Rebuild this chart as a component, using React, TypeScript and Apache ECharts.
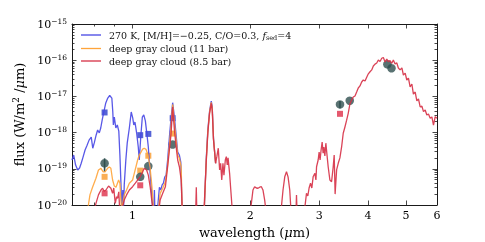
import React, { useEffect, useRef } from "react";
import * as echarts from "echarts";

// [wavelength (µm), flux (W/m^2/µm)]
const blueModel: [number, number][] = [
  [0.700, 1.75e-19], [0.707, 2.4e-19], [0.715, 1.27e-19], [0.724, 9.3e-20], [0.732, 1.05e-19],
  [0.739, 1.42e-19], [0.747, 2.1e-19], [0.756, 3.3e-19], [0.765, 4.5e-19], [0.774, 6.2e-19],
  [0.784, 7.5e-19], [0.791, 3.7e-19], [0.798, 5.2e-19], [0.807, 8.6e-19], [0.814, 1.18e-18],
  [0.822, 9.8e-19], [0.829, 1.34e-18], [0.836, 2.2e-18], [0.844, 3.7e-18], [0.854, 6.6e-18],
  [0.864, 9.0e-18], [0.874, 1.06e-17], [0.885, 9.0e-18], [0.890, 3.7e-18], [0.893, 1.62e-18],
  [0.898, 2.7e-18], [0.906, 1.34e-18], [0.914, 1.62e-18], [0.922, 1.1e-18], [0.928, 2.4e-19],
  [0.934, 3.6e-20], [0.939, 7e-21], [0.944, 2.6e-20], [0.948, 7e-21], [0.952, 3.6e-20],
  [0.961, 1.75e-19], [0.969, 5.2e-19], [0.981, 1.34e-18], [0.992, 3.7e-18], [1.001, 2.5e-18],
  [1.007, 1.62e-18], [1.014, 1.96e-18], [1.024, 9.8e-19], [1.034, 4.0e-19], [1.040, 1.75e-19],
  [1.050, 8.6e-19], [1.059, 2.7e-18], [1.068, 3.1e-18], [1.078, 2.1e-18], [1.087, 9.8e-19],
  [1.097, 4.0e-19], [1.107, 9.3e-20], [1.117, 2.6e-20], [1.127, 7e-21], [1.133, 7e-21],
  [1.137, 2.6e-20], [1.140, 7e-21], [1.157, 7e-21], [1.171, 3.1e-20], [1.180, 2.6e-20],
  [1.190, 3.6e-20], [1.199, 4.0e-20], [1.208, 5.9e-20], [1.218, 6.7e-20], [1.229, 1.75e-19],
  [1.242, 7.5e-19], [1.254, 2.5e-18], [1.266, 6.7e-18], [1.279, 2.7e-18], [1.292, 8.6e-19],
  [1.304, 2.9e-19], [1.317, 2.4e-19], [1.328, 1.54e-19], [1.339, 7e-21], [1.357, 7e-21],
  [1.518, 7e-21], [1.527, 1e-20], [1.542, 1.75e-19], [1.557, 1.18e-18], [1.573, 3.9e-18],
  [1.589, 7.4e-18], [1.598, 5.2e-18], [1.610, 7.0e-19], [1.630, 1.42e-19],
];

const orangeModel: [number, number][] = [
  [0.767, 7e-21], [0.778, 1.9e-20], [0.790, 3.1e-20], [0.806, 5.5e-20], [0.818, 9.3e-20],
  [0.830, 1.03e-19], [0.841, 8.2e-20], [0.851, 8.3e-20], [0.863, 1.03e-19], [0.872, 1.12e-19],
  [0.880, 1.03e-19], [0.889, 4.9e-20], [0.898, 3.35e-20], [0.907, 3.1e-20], [0.921, 4.9e-20],
  [0.928, 4.0e-20], [0.937, 7e-21], [0.952, 1.9e-20], [0.965, 2.6e-20], [0.981, 4.0e-20],
  [1.000, 4.9e-20], [1.010, 7.5e-20], [1.020, 1.14e-19], [1.030, 1.75e-19], [1.040, 2.4e-19],
  [1.051, 2.9e-19], [1.061, 3.5e-19], [1.071, 3.7e-19], [1.082, 3.45e-19], [1.095, 2.4e-19],
  [1.108, 1.12e-19], [1.121, 3.1e-20], [1.132, 7e-21], [1.164, 7e-21], [1.176, 2.1e-20],
  [1.194, 2.9e-20], [1.213, 4.4e-20], [1.229, 1.27e-19], [1.242, 4.5e-19], [1.254, 1.46e-18],
  [1.266, 6.0e-18], [1.279, 1.81e-18], [1.292, 6.2e-19], [1.304, 2.4e-19], [1.317, 1.95e-19],
  [1.331, 1.14e-19], [1.339, 7e-21], [1.518, 7e-21], [1.527, 1e-20], [1.542, 1.54e-19],
  [1.557, 1.04e-18], [1.573, 3.6e-18], [1.589, 6.8e-18], [1.598, 4.6e-18], [1.610, 6.6e-19],
  [1.630, 1.42e-19],
];

const redModel: [number, number][] = [
  [0.798, 7e-21], [0.806, 1.11e-20], [0.818, 1.9e-20], [0.830, 2.6e-20], [0.838, 2.9e-20],
  [0.846, 2.4e-20], [0.855, 2.6e-20], [0.868, 3.35e-20], [0.880, 2.9e-20], [0.889, 2.1e-20],
  [0.895, 2.95e-20], [0.903, 1.11e-20], [0.910, 1.69e-20], [0.915, 1.53e-20], [0.922, 2.3e-20],
  [0.927, 7e-21], [0.938, 7e-21], [0.952, 1.37e-20], [0.965, 1.9e-20], [0.981, 2.6e-20],
  [1.000, 3.2e-20], [1.016, 4.0e-20], [1.030, 4.9e-20], [1.045, 6.0e-20], [1.061, 8.3e-20],
  [1.071, 1.03e-19], [1.086, 9.3e-20], [1.097, 6.7e-20], [1.110, 2.95e-20], [1.123, 1e-20],
  [1.130, 7e-21], [1.167, 7e-21], [1.176, 1.37e-20], [1.194, 2.1e-20], [1.213, 3.2e-20],
  [1.229, 1.14e-19], [1.242, 3.3e-19], [1.254, 9.2e-19], [1.266, 5.1e-18], [1.279, 1.18e-18],
  [1.292, 4.1e-19], [1.304, 1.75e-19], [1.317, 1.14e-19], [1.331, 4.9e-20], [1.339, 7e-21],
  [1.450, 7e-21], [1.455, 3.1e-20], [1.459, 7e-21], [1.522, 7e-21], [1.542, 1.42e-19],
  [1.557, 9.6e-19], [1.573, 3.4e-18], [1.589, 6.4e-18], [1.598, 4.2e-18], [1.610, 6.2e-19],
  [1.630, 1.42e-19], [1.642, 2.16e-19], [1.656, 3.7e-19], [1.669, 9.3e-20], [1.679, 1.42e-19],
  [1.690, 4.9e-20], [1.702, 1.42e-19], [1.712, 6.7e-20], [1.726, 1.75e-19], [1.736, 2.16e-19],
  [1.746, 1.27e-19], [1.754, 2.0e-19], [1.770, 7.5e-20], [1.780, 3.2e-20], [1.794, 1e-20],
  [1.800, 7e-21], [1.998, 7e-21], [2.012, 1.11e-20], [2.031, 2.6e-20], [2.051, 3.2e-20],
  [2.072, 2.95e-20], [2.092, 2.9e-20], [2.113, 3.1e-20], [2.134, 3.2e-20], [2.154, 2.6e-20],
  [2.176, 1.37e-20], [2.192, 7e-21], [2.396, 7e-21], [2.424, 2.6e-20], [2.449, 6.0e-20],
  [2.474, 8.3e-20], [2.497, 6.0e-20], [2.522, 2.6e-20], [2.540, 7e-21], [2.617, 7e-21],
  [2.624, 1.9e-20], [2.632, 7e-21], [2.748, 7e-21], [2.764, 1.11e-20], [2.783, 2.1e-20],
  [2.805, 1.77e-20], [2.826, 2.95e-20], [2.850, 4.0e-20], [2.872, 2.95e-20], [2.894, 6.0e-20],
  [2.924, 7.5e-20], [2.942, 4.9e-20], [2.953, 1.14e-19], [2.981, 1.75e-19], [2.998, 2.9e-19],
  [3.015, 1.75e-19], [3.033, 3.3e-19], [3.052, 5.5e-19], [3.069, 2.7e-19], [3.083, 4.0e-19],
  [3.101, 2.26e-19], [3.119, 5.1e-19], [3.135, 2.9e-19], [3.162, 1.14e-19], [3.194, 4.9e-20],
  [3.226, 4.4e-20], [3.257, 1.14e-19], [3.276, 2.4e-19], [3.294, 2.0e-20], [3.323, 9.3e-20],
  [3.355, 1.42e-19], [3.388, 2.0e-19], [3.423, 4.1e-19], [3.455, 9.6e-19], [3.490, 1.43e-18],
  [3.525, 2.2e-18], [3.558, 3.4e-18], [3.594, 6.2e-18], [3.631, 8.0e-18], [3.665, 9.6e-18],
  [3.703, 1.03e-17], [3.739, 1.32e-17], [3.775, 1.71e-17], [3.813, 1.95e-17], [3.851, 2.5e-17],
  [3.888, 2.84e-17], [3.928, 2.66e-17], [3.967, 3.4e-17], [4.005, 4.2e-17], [4.045, 4.8e-17],
  [4.086, 5.4e-17], [4.125, 6.9e-17], [4.166, 7.8e-17], [4.208, 8.4e-17], [4.248, 1.01e-16],
  [4.291, 9.2e-17], [4.334, 1.13e-16], [4.375, 1.19e-16], [4.420, 8.9e-17], [4.464, 1.08e-16],
  [4.506, 9.1e-17], [4.550, 9.8e-17], [4.598, 8.2e-17], [4.640, 1.01e-16], [4.688, 7.9e-17],
  [4.736, 8.4e-17], [4.780, 6.1e-17], [4.828, 5.4e-17], [4.880, 6.1e-17], [4.923, 3.9e-17],
  [4.975, 4.4e-17], [5.023, 2.84e-17], [5.072, 3.2e-17], [5.122, 1.82e-17], [5.175, 2.2e-17],
  [5.222, 1.16e-17], [5.277, 1.32e-17], [5.329, 7.5e-18], [5.380, 8.5e-18], [5.434, 5.1e-18],
  [5.490, 5.4e-18], [5.541, 3.8e-18], [5.597, 4.2e-18], [5.651, 3.06e-18], [5.706, 3.26e-18],
  [5.765, 2.5e-18], [5.822, 2.7e-18], [5.877, 1.62e-18], [5.937, 2.75e-18], [6.000, 2.5e-18],
];

// synthetic photometry of the models
const photWave = [0.848, 1.046, 1.097, 1.266];
const blueSynth = [3.6e-18, 8.5e-19, 9.2e-19, 2.5e-18];
const orangeSynth = [6.0e-20, 8.9e-20, 2.3e-19, 9.4e-19];
const redSynthWave = [0.848, 1.046, 3.39];
const redSynth = [2.1e-20, 3.5e-20, 3.3e-18];

// observed photometry
const obsWave = [0.848, 1.046, 1.097, 1.266, 3.39, 3.59, 4.48, 4.59];
const obsFlux = [1.42e-19, 6.0e-20, 1.19e-19, 4.7e-19, 6.0e-18, 7.6e-18, 7.7e-17, 6.0e-17];
const errWave = [0.848, 3.39];
const errLow = [8.3e-20, 4.7e-18];
const errHigh = [1.95e-19, 7.5e-18];

// axis ticks
const xMajorTicks = [1, 2, 3, 4, 5, 6];
const xMinorTicks = [0.8, 0.9];
const xRange = [0.7, 6];
const yRange = [1e-20, 1e-15];

const seriesNames = [
  "270 K, [M/H]=−0.25, C/O=0.3, fsed=4",
  "deep gray cloud (11 bar)",
  "deep gray cloud (8.5 bar)",
];
const seriesColors = ["#4646e4", "#ffa43a", "#d62f45"];

const FONT = "DejaVu Serif";
const L = Math.log10;

export default function App() {
  const ref = useRef<HTMLDivElement>(null);
  useEffect(() => {
    const chart = echarts.init(ref.current!, null, { renderer: "svg" });
    const toLog = (pts: [number, number][]) => pts.map(([w, f]) => [L(w), L(f)]);
    const zipLog = (ws: number[], fs: number[]) => ws.map((w, i) => [L(w), L(fs[i])]);
    const xMin = L(xRange[0]);
    const xMax = L(xRange[1]);
    const yMin = L(yRange[0]);
    const yMax = L(yRange[1]);
    const majorX = xMajorTicks.map(L);
    const minorX = xMinorTicks.map(L);
    const minorY: number[] = [];
    for (let n = Math.round(yMin); n < Math.round(yMax); n++) {
      for (let k = 2; k <= 9; k++) minorY.push(n + L(k));
    }
    const axisCol = "#1a1a1a";
    const xBase = (position: string, ticks: number[], len: number, line: boolean, labels: boolean) => ({
      type: "value",
      position,
      min: xMin,
      max: xMax,
      splitLine: { show: false },
      axisLine: { show: line, onZero: false, lineStyle: { color: axisCol, width: 1 } },
      axisTick: { show: true, inside: true, length: len, customValues: ticks, lineStyle: { color: axisCol, width: 0.8 } },
      axisLabel: labels
        ? {
            show: true,
            customValues: majorX,
            formatter: (v: number) => String(Math.round(Math.pow(10, v))),
            fontFamily: FONT,
            fontSize: 11,
            color: "#000",
            margin: 5,
          }
        : { show: false },
    });
    const yBase = (position: string, ticks: number[] | null, len: number, line: boolean, labels: boolean) => ({
      type: "value",
      position,
      min: yMin,
      max: yMax,
      interval: 1,
      splitLine: { show: false },
      axisLine: { show: line, onZero: false, lineStyle: { color: axisCol, width: 1 } },
      axisTick: ticks
        ? { show: true, inside: true, length: len, customValues: ticks, lineStyle: { color: axisCol, width: 0.8 } }
        : { show: true, inside: true, length: len, lineStyle: { color: axisCol, width: 0.8 } },
      axisLabel: labels
        ? {
            show: true,
            formatter: (v: number) => {
              const e = Math.round(v);
              return `{b|10}{s|${e < 0 ? "−" : ""}${Math.abs(e)}}`;
            },
            rich: {
              b: { fontFamily: FONT, fontSize: 11, color: "#000", lineHeight: 14 },
              s: { fontFamily: FONT, fontSize: 7.5, color: "#000", lineHeight: 8, verticalAlign: "top" },
            },
            margin: 5,
          }
        : { show: false },
    });

    const xAxes: any[] = [
      {
        ...xBase("bottom", majorX, 4.5, true, true),
        name: "{n|wavelength (}{i|μ}{n|m)}",
        nameLocation: "middle",
        nameGap: 15,
        nameTextStyle: {
          rich: {
            n: { fontFamily: FONT, fontSize: 13, color: "#000" },
            i: { fontFamily: FONT, fontSize: 13, color: "#000", fontStyle: "italic" },
          },
        },
      },
      xBase("top", majorX, 4.5, true, false),
      xBase("bottom", minorX, 2.5, false, false),
      xBase("top", minorX, 2.5, false, false),
    ];
    const yAxes: any[] = [
      {
        ...yBase("left", null, 4.5, true, true),
        name: "{n|flux (W/m}{sup|2}{n| /}{i|μ}{n|m)}",
        nameLocation: "middle",
        nameGap: 37,
        nameTextStyle: {
          rich: {
            n: { fontFamily: FONT, fontSize: 13, color: "#000", lineHeight: 16 },
            sup: { fontFamily: FONT, fontSize: 9, color: "#000", lineHeight: 9, verticalAlign: "top" },
            i: { fontFamily: FONT, fontSize: 13, color: "#000", fontStyle: "italic", lineHeight: 16 },
          },
        },
      },
      yBase("right", null, 4.5, true, false),
      yBase("left", minorY, 2.5, false, false),
      yBase("right", minorY, 2.5, false, false),
    ];

    const lineSeries = (name: string, data: number[][], color: string) => ({
      type: "line",
      name,
      data,
      symbol: "none",
      showSymbol: false,
      clip: true,
      lineStyle: { color, width: 1.3, opacity: 0.9 },
      itemStyle: { color },
      silent: true,
    });

    chart.setOption({
      animation: false,
      grid: { left: 72, right: 48, top: 24, bottom: 37, containLabel: false, outerBoundsMode: "none" },
      legend: {
        show: true,
        orient: "vertical",
        left: 81,
        top: 30,
        padding: 0,
        icon: "rect",
        itemWidth: 20,
        itemHeight: 1.3,
        itemGap: 2.5,
        data: seriesNames.map((n, i) => ({ name: n, itemStyle: { color: seriesColors[i] } })),
        formatter: (name: string) =>
          name === seriesNames[0]
            ? "{n|270 K, [M/H]=−0.25, C/O=0.3, }{i|f}{sub|sed}{n|=4}"
            : `{n|${name}}`,
        textStyle: {
          padding: [0, 0, 0, 3],
          rich: {
            n: { fontFamily: FONT, fontSize: 9.5, color: "#111", lineHeight: 12 },
            i: { fontFamily: FONT, fontSize: 9.5, color: "#111", lineHeight: 12, fontStyle: "italic" },
            sub: { fontFamily: FONT, fontSize: 6.5, color: "#111", lineHeight: 5, verticalAlign: "bottom" },
          },
        },
      },
      xAxis: xAxes,
      yAxis: yAxes,
      series: [
        lineSeries(seriesNames[0], toLog(blueModel), seriesColors[0]),
        lineSeries(seriesNames[1], toLog(orangeModel), seriesColors[1]),
        lineSeries(seriesNames[2], toLog(redModel), seriesColors[2]),
        {
          type: "scatter",
          data: zipLog(photWave, blueSynth),
          symbol: "rect",
          symbolSize: 6,
          itemStyle: { color: "#2a3ccc" },
        },
        {
          type: "scatter",
          data: zipLog(photWave, orangeSynth),
          symbol: "rect",
          symbolSize: 6,
          itemStyle: { color: "#f99a2a" },
        },
        {
          type: "scatter",
          data: zipLog(redSynthWave, redSynth),
          symbol: "rect",
          symbolSize: 6,
          itemStyle: { color: "#df2f4a" },
        },
        {
          type: "custom",
          data: errWave.map((w, i) => [L(w), L(errLow[i]), L(errHigh[i])]),
          renderItem: (params: any, api: any) => {
            const p1 = api.coord([api.value(0), api.value(1)]);
            const p2 = api.coord([api.value(0), api.value(2)]);
            return {
              type: "line",
              shape: { x1: p1[0], y1: p1[1], x2: p2[0], y2: p2[1] },
              style: { stroke: "#2f4f4f", lineWidth: 1.6 },
            };
          },
        },
        {
          type: "scatter",
          data: zipLog(obsWave, obsFlux),
          symbol: "circle",
          symbolSize: 8.5,
          itemStyle: { color: "#2f4f4f" },
        },
      ],
    });
    return () => chart.dispose();
  }, []);
  return <div ref={ref} style={{ position: "fixed", left: 0, top: 0, width: 485, height: 242 }} />;
}
